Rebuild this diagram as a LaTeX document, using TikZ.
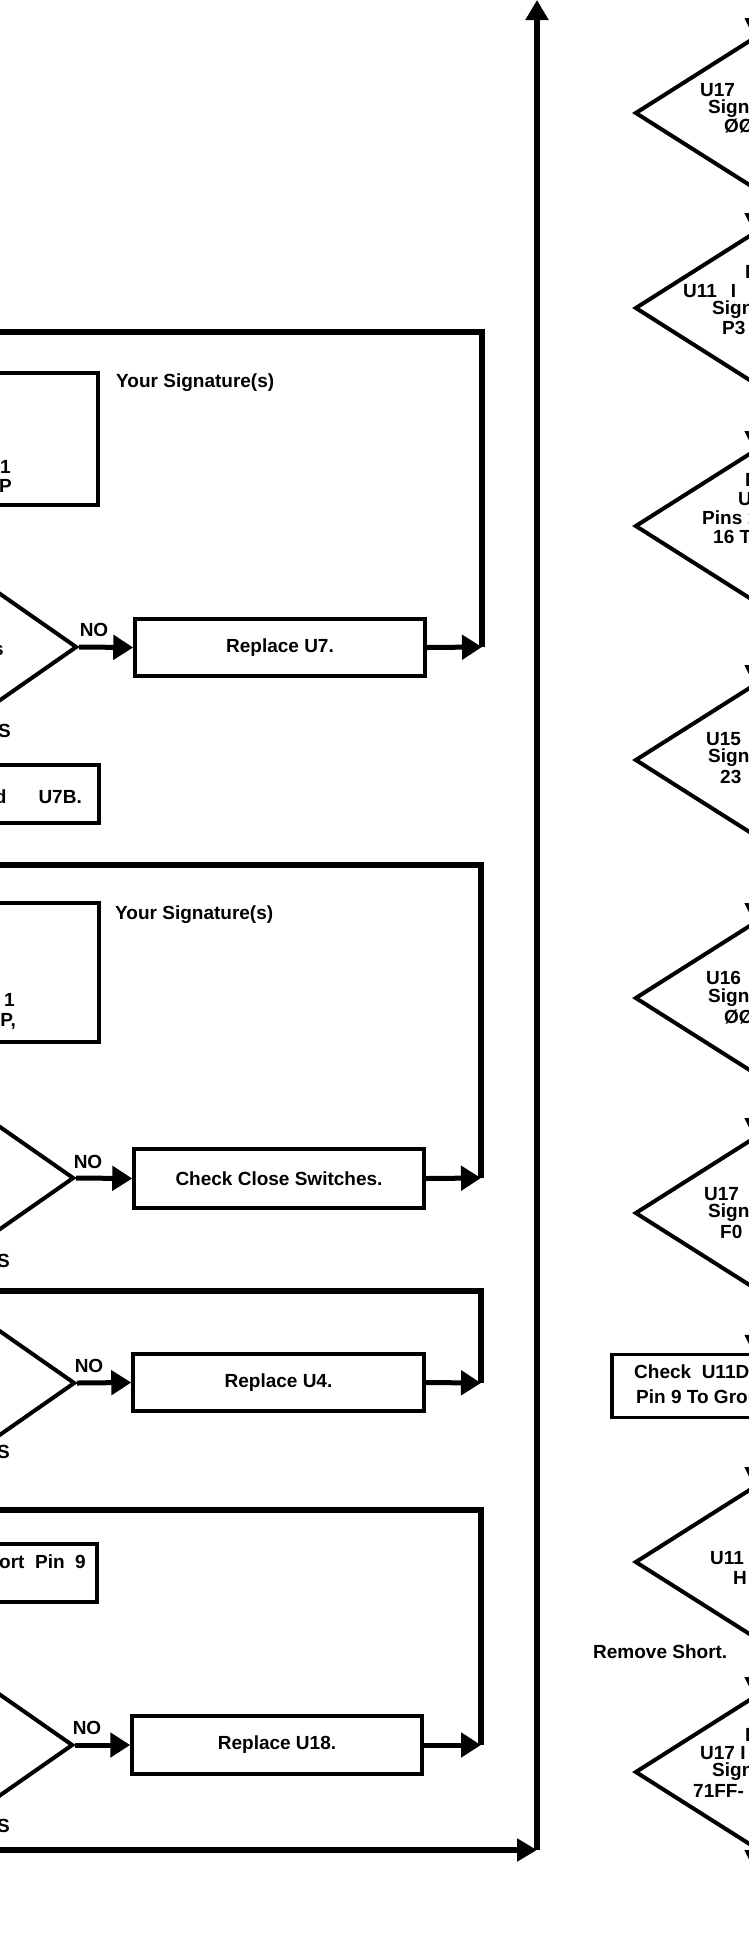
\documentclass[tikz,border=0pt]{standalone}
\usepackage{fontspec}
\setmainfont{Liberation Sans}
\usetikzlibrary{shapes.geometric,arrows.meta}
\begin{document}
\begin{tikzpicture}[x=1pt,y=-1pt,
  lbl/.style={font=\fontsize{19}{21}\selectfont\bfseries, inner sep=0pt},
  loopline/.style={line width=6pt},
  boxst/.style={draw, line width=3.5pt, rectangle, inner sep=0pt, font=\fontsize{19}{21}\selectfont\bfseries},
  ldiam/.style={draw, diamond, line width=4pt, inner sep=0pt, minimum width=220pt, minimum height=154pt},
  rdiam/.style={draw, diamond, line width=4pt, inner sep=0pt, minimum width=236pt, minimum height=150pt},
  arrbig/.style={line width=5pt, -{Triangle[length=20pt,width=24pt]}},
  arrsmall/.style={line width=4pt, -{Triangle[length=18pt,width=16pt]}},
  arrmain/.style={line width=6pt, -{Triangle[length=20pt,width=22pt]}}
]
\useasboundingbox (0,0) rectangle (749,1941);
\clip (0,0) rectangle (749,1941);

% ---------------- left column ----------------
% loop 1
\node[boxst, minimum width=296pt, minimum height=132pt] (bA) at (-50,439) {};
\node[lbl, anchor=east] (tA1) at (11,467) {1};
\node[lbl, anchor=east] (tA2) at (12,486) {P};
\node[lbl, anchor=west] (sig1) at (116,383) {Your Signature(s)};
\node[ldiam] (dL1) at (-33,647) {};
\node[lbl, anchor=east] (dL1t) at (4,650) {s};
\node[lbl] (no1) at (94,630) {NO};
\node[boxst, minimum width=290pt, minimum height=57pt] (bU7) at (280,647.5) {Replace U7.};
\node[lbl, anchor=east] (yes1) at (11,731) {YES};
\node[boxst, minimum width=298pt, minimum height=58pt] (bB) at (-50,794) {};
\node[lbl, anchor=east] (tB) at (82,797) {and\hspace{32pt}U7B.};
\coordinate (c1) at (482,647);
\coordinate (c1t) at (482,332);
\coordinate (c1l) at (-10,332);
\draw[arrbig] (dL1.east) -- (bU7.west);
\draw[arrbig] (bU7.east) -- (c1);
\draw[loopline] (c1) -- (c1t) -- (c1l);

% loop 2
\node[boxst, minimum width=298pt, minimum height=139pt] (bC) at (-50,972.5) {};
\node[lbl, anchor=east] (tC1) at (15,1000) {1};
\node[lbl, anchor=east] (tC2) at (16,1021) {P,};
\node[lbl, anchor=west] (sig2) at (115,915) {Your Signature(s)};
\node[ldiam] (dL2) at (-36,1178) {};
\node[lbl] (no2) at (88,1162) {NO};
\node[boxst, minimum width=290pt, minimum height=59pt] (bCS) at (279,1178.5) {Check Close Switches.};
\node[lbl, anchor=east] (yes2) at (10,1261) {YES};
\coordinate (c2) at (481,1178);
\coordinate (c2t) at (481,865);
\coordinate (c2l) at (-10,865);
\draw[arrbig] (dL2.east) -- (bCS.west);
\draw[arrbig] (bCS.east) -- (c2);
\draw[loopline] (c2) -- (c2t) -- (c2l);

% loop 3
\node[ldiam] (dL3) at (-35,1383) {};
\node[lbl] (no3) at (89,1366) {NO};
\node[boxst, minimum width=291pt, minimum height=57pt] (bU4) at (278.5,1382.5) {Replace U4.};
\node[lbl, anchor=east] (yes3) at (10,1452) {YES};
\coordinate (c3) at (481,1383);
\coordinate (c3t) at (481,1291);
\coordinate (c3l) at (-10,1291);
\draw[arrbig] (dL3.east) -- (bU4.west);
\draw[arrbig] (bU4.east) -- (c3);
\draw[loopline] (c3) -- (c3t) -- (c3l);

% loop 4
\node[boxst, minimum width=294pt, minimum height=58pt] (bD) at (-50,1573) {};
\node[lbl, anchor=east] (tD) at (86,1562) {Short\ \ Pin\ \ 9};
\node[ldiam] (dL4) at (-37,1745) {};
\node[lbl] (no4) at (87,1728) {NO};
\node[boxst, minimum width=290pt, minimum height=58pt] (bU18) at (277,1745) {Replace U18.};
\node[lbl, anchor=east] (yes4) at (10,1826) {YES};
\coordinate (c4) at (481,1745);
\coordinate (c4t) at (481,1510);
\coordinate (c4l) at (-10,1510);
\draw[arrbig] (dL4.east) -- (bU18.west);
\draw[arrbig] (bU18.east) -- (c4);
\draw[loopline] (c4) -- (c4t) -- (c4l);

% bottom return line and main vertical
\coordinate (bl) at (-10,1850);
\coordinate (bb) at (537,1850);
\coordinate (bt) at (537,0);
\draw[arrmain] (bl) -- (bb);
\draw[arrmain] (bb) -- (bt);

% ---------------- right column ----------------
\coordinate (rtop) at (753,-10);
\node[rdiam] (D1) at (753,113) {};
\node[rdiam] (D2) at (753,308) {};
\node[rdiam] (D3) at (753,526) {};
\node[rdiam] (D4) at (753,760) {};
\node[rdiam] (D5) at (753,998) {};
\node[rdiam] (D6) at (753,1213) {};
\node[boxst, minimum width=282pt, minimum height=63pt] (RB) at (753,1386) {};
\node[rdiam] (D7) at (753,1562) {};
\node[rdiam] (D8) at (753,1772) {};
\coordinate (rbot) at (753,1868);

\draw[arrsmall] (rtop) -- (D1.north);
\draw[arrsmall] (D1.south) -- (D2.north);
\draw[arrsmall] (D2.south) -- (D3.north);
\draw[arrsmall] (D3.south) -- (D4.north);
\draw[arrsmall] (D4.south) -- (D5.north);
\draw[arrsmall] (D5.south) -- (D6.north);
\draw[arrsmall] (D6.south) -- (RB.north);
\draw[arrsmall] (RB.south) -- (D7.north);
\draw[arrsmall] (D7.south) -- (D8.north);
\draw[arrsmall] (D8.south) -- (rbot);

\node[lbl, anchor=west] (D1a) at (700,90) {U17};
\node[lbl, anchor=west] (D1b) at (708,109) {Signature};
\node[lbl, anchor=west] (D1c) at (724,126) {ØØ};

\node[lbl, anchor=west] (D2a) at (745,272) {Pin};
\node[lbl, anchor=west] (D2b) at (683,291) {U11\hspace{14pt}I};
\node[lbl, anchor=west] (D2c) at (712,310) {Signature};
\node[lbl, anchor=west] (D2d) at (722,328) {P3};

\node[lbl, anchor=west] (D3a) at (745,480) {D};
\node[lbl, anchor=west] (D3b) at (738,499) {U};
\node[lbl, anchor=west] (D3c) at (702,518) {Pins 1};
\node[lbl, anchor=west] (D3d) at (713,537) {16 To};

\node[lbl, anchor=west] (D4a) at (706,739) {U15};
\node[lbl, anchor=west] (D4b) at (708,758) {Signature};
\node[lbl, anchor=west] (D4c) at (720,777) {23};

\node[lbl, anchor=west] (D5a) at (706,978) {U16};
\node[lbl, anchor=west] (D5b) at (708,998) {Signature};
\node[lbl, anchor=west] (D5c) at (724,1017) {ØØ};

\node[lbl, anchor=west] (D6a) at (704,1194) {U17};
\node[lbl, anchor=west] (D6b) at (708,1213) {Signature};
\node[lbl, anchor=west] (D6c) at (720,1232) {F0};

\node[lbl, anchor=west] (RBa) at (634,1372) {Check\ \ U11D};
\node[lbl, anchor=west] (RBb) at (636,1397) {Pin 9 To Ground};

\node[lbl, anchor=west] (D7a) at (710,1558) {U11};
\node[lbl, anchor=west] (D7b) at (733,1578) {H};

\node[lbl, anchor=west] (rs) at (593,1652) {Remove Short.};

\node[lbl, anchor=west] (D8a) at (745,1735) {Pin};
\node[lbl, anchor=west] (D8b) at (700,1753) {U17 I};
\node[lbl, anchor=west] (D8c) at (712,1772) {Signature};
\node[lbl, anchor=west] (D8d) at (693,1791) {71FF-};
\end{tikzpicture}
\end{document}
